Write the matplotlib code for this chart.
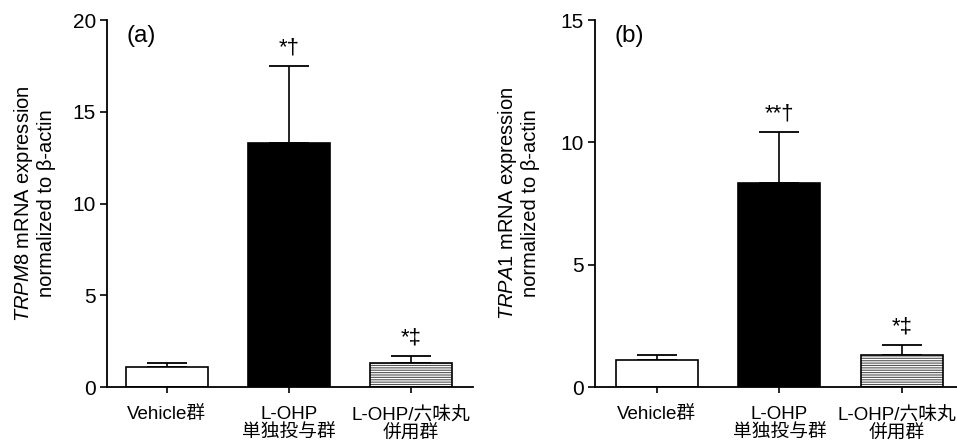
import matplotlib
matplotlib.use('Agg')
import matplotlib.pyplot as plt
import matplotlib.transforms as mtransforms
import numpy as np

plt.rcParams['font.family'] = ['Liberation Sans', 'Noto Sans CJK JP']
plt.rcParams['mathtext.fontset'] = 'custom'
plt.rcParams['mathtext.it'] = 'Liberation Sans:italic'
plt.rcParams['mathtext.rm'] = 'Liberation Sans'
plt.rcParams['hatch.linewidth'] = 0.8

categories = ['Vehicle群', 'L-OHP\n単独投与群', 'L-OHP/六味丸\n併用群']
trpm8_mean = [1.09, 13.28, 1.31]
trpm8_sem = [0.22, 4.22, 0.36]
trpm8_marks = ['', '*†', '*‡']
trpa1_mean = [1.12, 8.33, 1.31]
trpa1_sem = [0.19, 2.08, 0.40]
trpa1_marks = ['', '**†', '*‡']

panels = [
    dict(mean=trpm8_mean, sem=trpm8_sem, marks=trpm8_marks, gene='TRPM8',
         tag='(a)', ymax=20, yticks=[0, 5, 10, 15, 20],
         pos=[0.1118, 0.1264, 0.3824, 0.8284], xlim=(-0.49, 2.51), labelpad=12),
    dict(mean=trpa1_mean, sem=trpa1_sem, marks=trpa1_marks, gene='TRPA1',
         tag='(b)', ymax=15, yticks=[0, 5, 10, 15],
         pos=[0.6217, 0.1264, 0.384, 0.8284], xlim=(-0.506, 2.494), labelpad=15),
]

fig = plt.figure(figsize=(9.57, 4.43), dpi=100)
faces = ['white', 'black', 'white']
x = np.arange(len(categories))
w = 0.67

for i, p in enumerate(panels):
    ax = fig.add_axes(p['pos'])
    mean = np.array(p['mean'])
    sem = np.array(p['sem'])
    ax.errorbar(x, mean, yerr=[np.zeros_like(sem), sem], fmt='none',
                ecolor='black', elinewidth=1.2, capsize=14.5, capthick=1.3,
                zorder=1)
    ax.bar(x[2:], mean[2:], width=w, color='white', edgecolor='#555555',
           hatch='-------', linewidth=0, zorder=2)
    ax.bar(x[:2], mean[:2], width=w, color=faces[:2], edgecolor='black',
           linewidth=1.2, zorder=2)
    ax.bar(x[2:], mean[2:], width=w, color='none', edgecolor='black',
           linewidth=1.2, zorder=3)
    for xi, m, s, t in zip(x, mean, sem, p['marks']):
        if t:
            ax.annotate(t, xy=(xi, m + s), xytext=(0, 9),
                        textcoords='offset points', ha='center',
                        va='baseline', fontsize=16)
    ax.set_xlim(*p['xlim'])
    ax.set_ylim(0, p['ymax'])
    ax.set_yticks(p['yticks'])
    ax.set_xticks(x)
    ax.set_xticklabels(categories, fontsize=13.5, linespacing=1.1)
    ax.tick_params(axis='y', labelsize=15, length=5, width=1.2, pad=3)
    ax.tick_params(axis='x', length=4, width=1.2, pad=10)
    if i == 1:
        lbl = ax.get_xticklabels()[-1]
        lbl.set_transform(lbl.get_transform() +
                          mtransforms.ScaledTranslation(-4 / 72, 0, fig.dpi_scale_trans))
    for s in ['top', 'right']:
        ax.spines[s].set_visible(False)
    for s in ['left', 'bottom']:
        ax.spines[s].set_linewidth(1.3)
    ax.set_ylabel('$\\it{' + p['gene'] + '}$ mRNA expression\nnormalized to β-actin',
                  fontsize=14.5, linespacing=1.1, labelpad=p['labelpad'])
    ax.text(p['xlim'][0] + 0.16, p['ymax'] * 0.987, p['tag'], fontsize=17.5,
            ha='left', va='top')

fig.savefig('out.png', dpi=100)
